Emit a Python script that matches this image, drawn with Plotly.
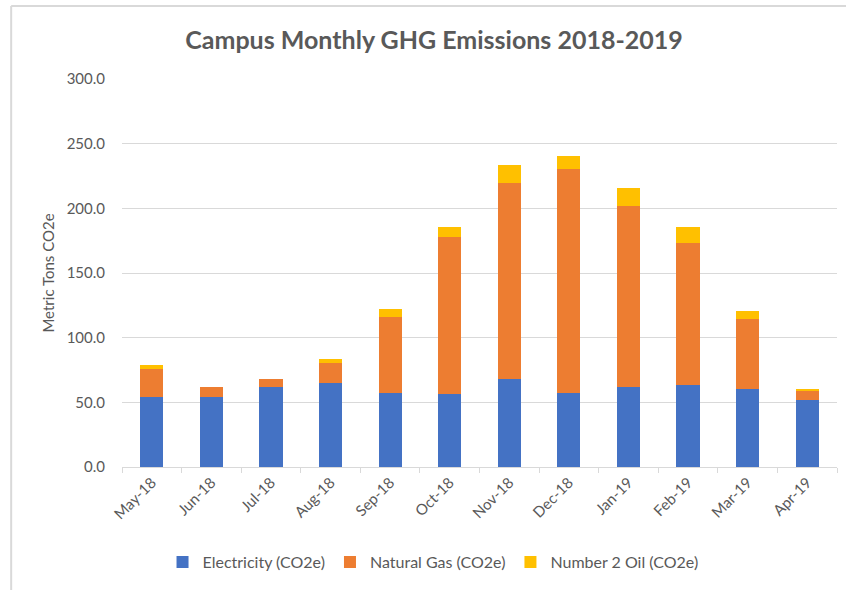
import plotly.graph_objects as go

months = ["May-18", "Jun-18", "Jul-18", "Aug-18", "Sep-18", "Oct-18",
          "Nov-18", "Dec-18", "Jan-19", "Feb-19", "Mar-19", "Apr-19"]
electricity = [54.3, 54.3, 61.9, 65.0, 57.4, 56.2, 68.0, 57.4, 61.8, 63.4, 60.3, 51.6]
natural_gas = [21.6, 7.6, 6.2, 15.3, 58.6, 121.7, 151.9, 173.3, 140.2, 110.1, 54.1, 7.4]
oil = [3.1, 0.0, 0.0, 3.1, 6.1, 7.4, 13.6, 10.0, 13.6, 11.8, 6.2, 1.3]
y_ticks = [0, 50, 100, 150, 200, 250, 300]

FONT = "Lato, 'Open Sans', sans-serif"
GREY = "#595959"

fig = go.Figure()
fig.add_bar(x=months, y=electricity, name="Electricity (CO2e)", marker_color="#4472C4",
            marker_line_width=0)
fig.add_bar(x=months, y=natural_gas, name="Natural Gas (CO2e)", marker_color="#ED7D31",
            marker_line_width=0)
fig.add_bar(x=months, y=oil, name="Number 2 Oil (CO2e)", marker_color="#FFC000",
            marker_line_width=0)

fig.update_layout(
    width=846, height=590,
    barmode="stack", bargap=0.61,
    paper_bgcolor="white", plot_bgcolor="white",
    margin=dict(l=122, r=9, t=79, b=123, autoexpand=False),
    font=dict(family=FONT, color=GREY, size=14),
    title=dict(text="Campus Monthly GHG Emissions 2018-2019", x=0.513, xanchor="center",
               y=0.932, yanchor="middle",
               font=dict(family=FONT, size=25, color=GREY, weight="bold")),
    legend=dict(orientation="h", x=0.435, xanchor="center", y=-0.245, yanchor="middle",
                font=dict(size=16, color=GREY), traceorder="normal", itemwidth=30),
    xaxis=dict(tickangle=-45, showgrid=False, showline=True, linecolor="#d9d9d9",
               linewidth=1, ticks="outside", ticklen=5, tickcolor="#d9d9d9",
               tickson="boundaries", automargin=False,
               tickfont=dict(size=15, color=GREY)),
    yaxis=dict(range=[0, 300], tickvals=y_ticks, tickformat=".1f", showgrid=True,
               gridcolor="#d9d9d9", gridwidth=1, zeroline=False, showline=False,
               ticks="", ticklabelstandoff=16, automargin=False,
               title=dict(text="Metric Tons CO2e", standoff=8, font=dict(size=15, color=GREY)),
               tickfont=dict(size=15, color=GREY)),
    shapes=[
        dict(type="line", xref="paper", yref="paper", x0=-0.155, x1=1.02, y0=1.188, y1=1.188,
             line=dict(color="#d9d9d9", width=2)),
        dict(type="line", xref="paper", yref="paper", x0=-0.155, x1=-0.155, y0=1.188, y1=-0.4,
             line=dict(color="#d9d9d9", width=2)),
    ],
)

fig.write_html("out.html", config={"displayModeBar": False},
               post_script="document.body.style.margin='0';")
